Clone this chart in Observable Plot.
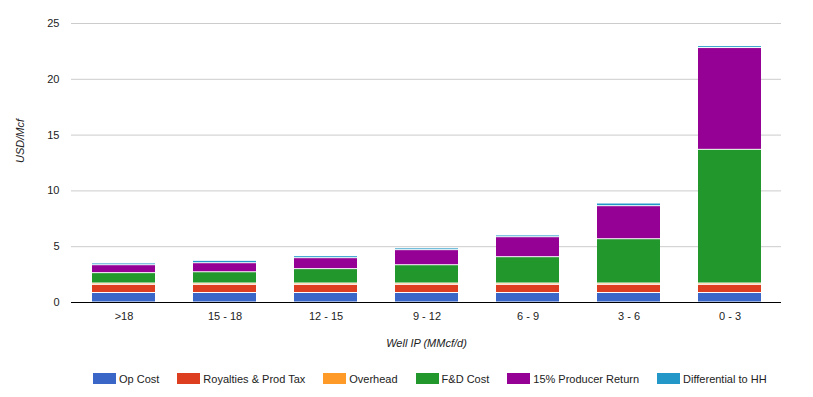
<!DOCTYPE html>
<html>
<head>
<meta charset="utf-8">
<script src="https://cdn.jsdelivr.net/npm/d3@7"></script>
<script src="https://cdn.jsdelivr.net/npm/@observablehq/plot@0.6"></script>
<style>
  html, body { margin: 0; padding: 0; background: #fff; }
  body { width: 813px; height: 397px; overflow: hidden; font-family: Arial, "Liberation Sans", sans-serif; }
  #legend { height: 37px; display: flex; align-items: center; padding-left: 93px; font-size: 11px; color: #222; }
  .item { display: flex; align-items: center; margin-right: 18px; white-space: nowrap; }
  .sw { width: 23px; height: 11px; margin-right: 3px; }
</style>
</head>
<body>
<div id="chart"></div>
<div id="legend"></div>
<script>
const categories = [">18", "15 - 18", "12 - 15", "9 - 12", "6 - 9", "3 - 6", "0 - 3"];
const seriesNames = ["Op Cost", "Royalties & Prod Tax", "Overhead", "F&D Cost", "15% Producer Return", "Differential to HH"];
const seriesColors = ["#3a66c8", "#dc3e1f", "#fd9a28", "#22972c", "#950095", "#2398c8"];
const opCost = [0.85, 0.85, 0.85, 0.85, 0.85, 0.85, 0.85];
const royalties = [0.73, 0.73, 0.73, 0.73, 0.73, 0.73, 0.73];
const overhead = [0.12, 0.12, 0.12, 0.12, 0.12, 0.12, 0.12];
const fdCost = [0.93, 1.01, 1.29, 1.64, 2.36, 3.97, 11.98];
const producerReturn = [0.71, 0.81, 0.98, 1.35, 1.79, 2.96, 9.12];
const differential = [0.16, 0.21, 0.18, 0.16, 0.16, 0.24, 0.17];
const yTicks = [0, 5, 10, 15, 20, 25];

const seriesValues = [opCost, royalties, overhead, fdCost, producerReturn, differential];
const data = [];
seriesNames.forEach((s, i) => {
  categories.forEach((c, j) => data.push({series: s, cat: c, value: seriesValues[i][j]}));
});

const chart = Plot.plot({
  width: 813,
  height: 360,
  marginTop: 23,
  marginBottom: 58,
  marginLeft: 71,
  marginRight: 32,
  style: {fontFamily: 'Arial, "Liberation Sans", sans-serif', fontSize: "11px", color: "#222", background: "#fff"},
  x: {domain: categories, paddingInner: 0.38, paddingOuter: 0.19, label: null, tickSize: 0, tickPadding: 10},
  y: {domain: [0, 25], ticks: yTicks, label: null, tickSize: 0, tickPadding: 12},
  color: {domain: seriesNames, range: seriesColors},
  marks: [
    Plot.gridY(yTicks.filter(d => d > 0), {stroke: "#cccccc", strokeOpacity: 1}),
    Plot.barY(data, {x: "cat", y: "value", fill: "series", insetTop: 0.5, insetBottom: 0.5}),
    Plot.ruleY([0], {stroke: "#000", strokeWidth: 1}),
    Plot.text(["USD/Mcf"], {frameAnchor: "left", rotate: -90, dx: -51, fontStyle: "italic", fill: "#222"}),
    Plot.text(["Well IP (MMcf/d)"], {frameAnchor: "bottom", dy: 44, fontStyle: "italic", fill: "#222"})
  ]
});
document.getElementById("chart").appendChild(chart);

const legend = document.getElementById("legend");
seriesNames.forEach((s, i) => {
  const it = document.createElement("div");
  it.className = "item";
  const sw = document.createElement("div");
  sw.className = "sw";
  sw.style.background = seriesColors[i];
  const t = document.createElement("span");
  t.textContent = s;
  it.appendChild(sw);
  it.appendChild(t);
  legend.appendChild(it);
});
</script>
</body>
</html>
